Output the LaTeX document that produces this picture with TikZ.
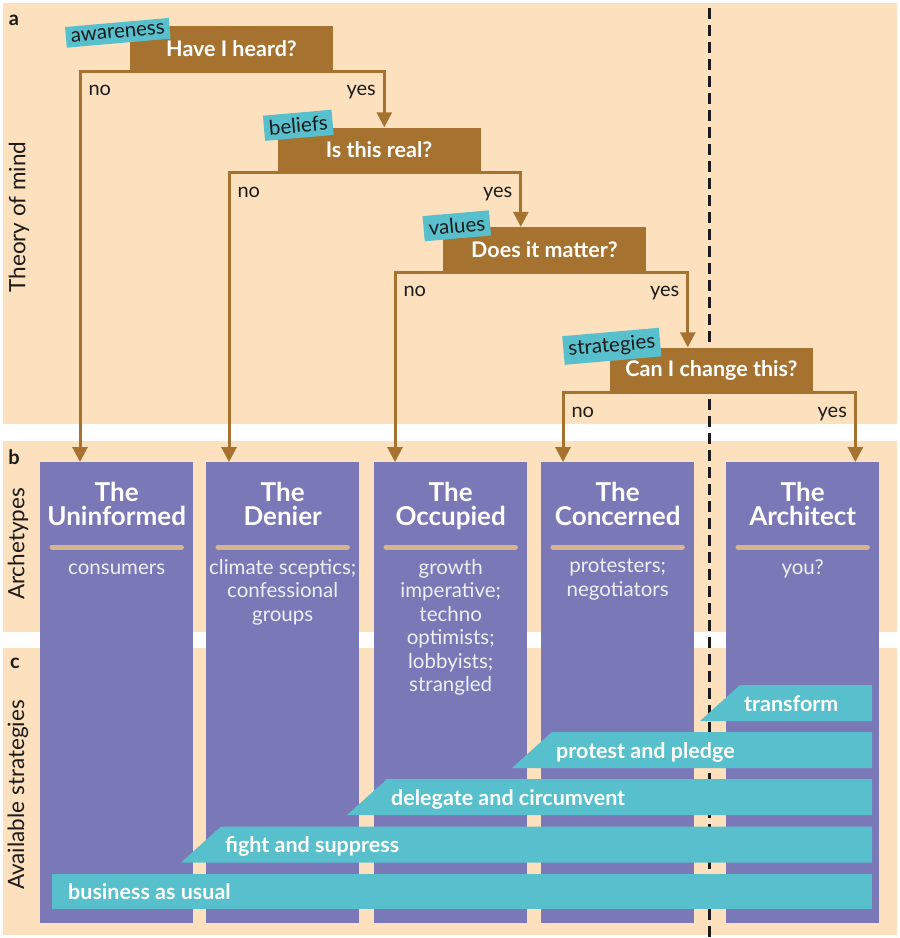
\documentclass[tikz,border=0pt]{standalone}
\usepackage{fontspec}
\setmainfont{Lato}
\usetikzlibrary{positioning,arrows.meta}

\definecolor{Peach}{HTML}{FDE0BE}
\definecolor{Bark}{HTML}{A6722F}
\definecolor{Lilac}{HTML}{7B78B8}
\definecolor{Lagoon}{HTML}{58BFCC}
\definecolor{Sand}{HTML}{D6B48C}
\definecolor{Ink}{HTML}{1B1B1B}
\newcommand{\pxfont}[2]{\fontsize{#1}{#2}\selectfont}

\tikzset{
    panel/.style={fill=Peach},
    question/.style={fill=Bark, text=white, font=\bfseries\pxfont{21.5}{24}, minimum width=203pt, minimum height=45pt, inner sep=0pt},
    tag/.style={fill=Lagoon, text=Ink, rotate=5, font=\pxfont{20.5}{22}, inner xsep=5pt, inner ysep=5pt},
    answer/.style={text=Ink, font=\pxfont{20}{22}, inner sep=0pt},
    flow/.style={draw=Bark, line width=3pt, -{Triangle[width=15pt,length=15pt]}},
    archbox/.style={fill=Lilac, minimum width=153pt, minimum height=461pt, inner sep=0pt, anchor=north west},
    archtitle/.style={text=white, font=\bfseries\pxfont{26}{24}, align=center, anchor=north, inner sep=0pt, execute at begin node={\vphantom{T}}},
    archtext/.style={text=white!88!Lilac, font=\pxfont{20.5}{23.5}, align=center, anchor=north, inner sep=0pt, execute at begin node={\vphantom{Th}}},
    divider/.style={draw=Sand, line width=5pt, line cap=round},
    band/.style={fill=Lagoon},
    bandtext/.style={text=white, font=\bfseries\pxfont{21.5}{24}, anchor=west, inner sep=0pt, text height=20pt, text depth=4pt},
    partletter/.style={text=Ink, font=\bfseries\pxfont{20}{24}},
    sidelabel/.style={text=Ink, font=\pxfont{22.5}{24}, rotate=90}
}

\begin{document}
\begin{tikzpicture}[x=1pt, y=-1pt]
    \useasboundingbox (0,0) rectangle (900,938);
    \fill[white] (0,0) rectangle (900,938);

    % panels a, b, c
    \fill[panel] (3,3) rectangle (897,424);
    \fill[panel] (3,441) rectangle (897,632);
    \fill[panel] (3,648) rectangle (897,935);
    \node[partletter] (a) at (14,20) {a};
    \node[partletter] (b) at (14,457) {b};
    \node[partletter] (c) at (15,663) {c};
    \node[sidelabel] (mind) at (19,217) {Theory of mind};
    \node[sidelabel] (types) at (18,544) {Archetypes};
    \node[sidelabel] (avail) at (18,795) {Available strategies};

    % cut line
    \draw[Ink, line width=3pt, dash pattern=on 11pt off 6pt] (709,8) -- (709,938);

    % archetypes
    \foreach \name/\x/\ttl/\desc in {
        uninf/40/Uninformed/consumers,
        denier/206/Denier/{climate sceptics;\\confessional\\groups},
        occup/374/Occupied/{growth\\imperative;\\techno\\optimists;\\lobbyists;\\strangled},
        concern/541/Concerned/{protesters;\\negotiators},
        archit/726/Architect/you?}
    {
        \node[archbox] (\name) at (\x,462) {};
        \node[archtitle] (\name-title) at ([yshift=-20pt]\name.north) {The\\\ttl};
        \draw[divider] ([xshift=12pt,yshift=-85pt]\name.north west) -- ([xshift=-12pt,yshift=-85pt]\name.north east);
        \node[archtext] (\name-text) at ([yshift=-97pt]\name.north) {\desc};
    }

    % strategies
    \foreach \name/\y/\x/\txt in {
        transform/685/700/transform,
        pledge/732/512/protest and pledge,
        delegate/779/347/delegate and circumvent,
        fight/826.5/181/fight and suppress}
    {
        \fill[band] (\x,\y+36) -- (\x+40,\y) -- (872,\y) -- (872,\y+36) -- cycle;
        \node[bandtext] (\name) at (\x+44,\y+18) {\txt};
    }
    \fill[band] (52,874) rectangle (872,909);
    \node[bandtext] (usual) at (68,891.5) {business as usual};

    % decision tree
    \node[question] (heard) at (231.5,48.5) {Have I heard?};
    \node[question] (real) at (379,150) {Is this real?};
    \node[question] (matter) at (544.5,249.5) {Does it matter?};
    \node[question] (change) at (711.5,370) {Can I change this?};

    \draw[flow] (heard.south) -| node[answer, pos=.5, anchor=north west, xshift=7pt, yshift=-13pt] {no} ([xshift=40pt]uninf.north west);
    \draw[flow] (heard.south) -| node[answer, pos=.5, anchor=north east, xshift=-7pt, yshift=-13pt] {yes} ([xshift=107pt]real.north west);
    \draw[flow] (real.south) -| node[answer, pos=.5, anchor=north west, xshift=7pt, yshift=-13pt] {no} ([xshift=23pt]denier.north west);
    \draw[flow] (real.south) -| node[answer, pos=.5, anchor=north east, xshift=-7pt, yshift=-13pt] {yes} ([xshift=78pt]matter.north west);
    \draw[flow] (matter.south) -| node[answer, pos=.5, anchor=north west, xshift=7pt, yshift=-13pt] {no} ([xshift=21pt]occup.north west);
    \draw[flow] (matter.south) -| node[answer, pos=.5, anchor=north east, xshift=-7pt, yshift=-13pt] {yes} ([xshift=78pt]change.north west);
    \draw[flow] (change.south) -| node[answer, pos=.5, anchor=north west, xshift=7pt, yshift=-13pt] {no} ([xshift=22pt]concern.north west);
    \draw[flow] (change.south) -| node[answer, pos=.5, anchor=north east, xshift=-7pt, yshift=-13pt] {yes} ([xshift=-24pt]archit.north east);

    \node[tag] (awareness) at ([xshift=-12pt,yshift=-7pt]heard.north west) {awareness};
    \node[tag] (beliefs) at ([xshift=21pt,yshift=2pt]real.north west) {beliefs};
    \node[tag] (values) at ([xshift=14pt,yshift=1pt]matter.north west) {values};
    \node[tag] (strategies) at ([xshift=2pt,yshift=1pt]change.north west) {strategies};
\end{tikzpicture}
\end{document}
